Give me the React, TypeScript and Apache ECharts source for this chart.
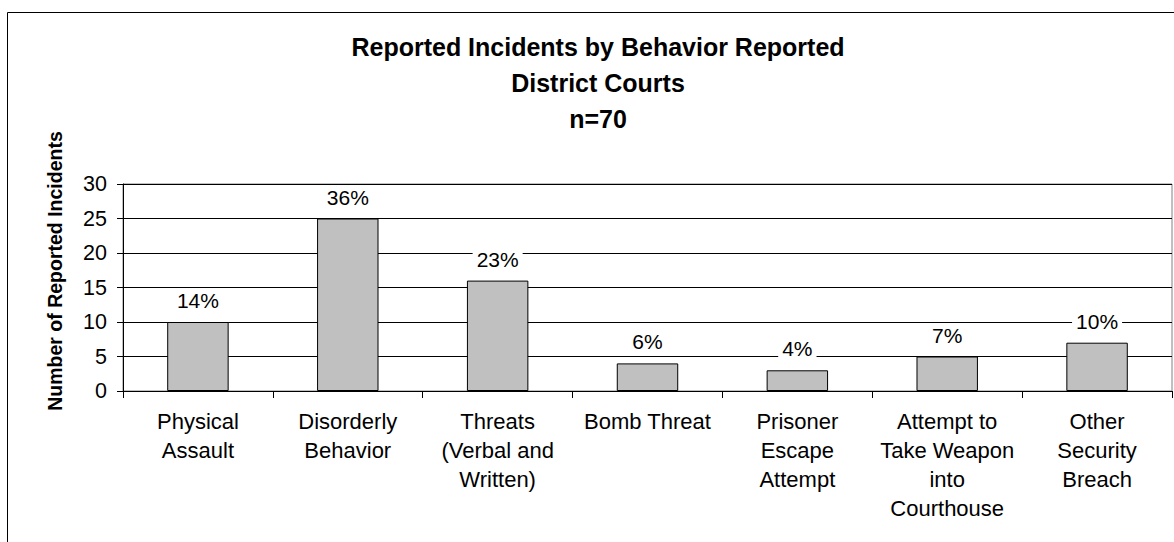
import React, { useEffect, useRef } from "react";
import * as echarts from "echarts";

const categories = [
  "Physical\nAssault",
  "Disorderly\nBehavior",
  "Threats\n(Verbal and\nWritten)",
  "Bomb Threat",
  "Prisoner\nEscape\nAttempt",
  "Attempt to\nTake Weapon\ninto\nCourthouse",
  "Other\nSecurity\nBreach",
];
const incidents = [10, 25, 16, 4, 3, 5, 7];
const titleLines = ["Reported Incidents by Behavior Reported", "District Courts", "n=70"];
const yAxisTitle = "Number of Reported Incidents";

const FONT = "'Liberation Sans', Arial, sans-serif";

export default function App() {
  const ref = useRef<HTMLDivElement>(null);
  useEffect(() => {
    document.body.style.margin = "0";
    const chart = echarts.init(ref.current!, null, { renderer: "svg" });
    const total = incidents.reduce((a, b) => a + b, 0);
    chart.setOption({
      animation: false,
      backgroundColor: "#ffffff",
      title: {
        text: titleLines.join("\n"),
        left: 593,
        top: 24,
        textAlign: "center",
        textStyle: {
          fontFamily: FONT,
          fontWeight: "bold",
          fontSize: 25,
          lineHeight: 36,
          color: "#000",
        },
      },
      graphic: [
        {
          type: "rect",
          shape: { x: 7.5, y: 12.5, width: 1300, height: 700 },
          style: { fill: "none", stroke: "#000", lineWidth: 1 },
          silent: true,
        },
        {
          type: "text",
          x: 55,
          y: 271,
          rotation: Math.PI / 2,
          style: {
            text: yAxisTitle,
            fontFamily: FONT,
            fontWeight: "bold",
            fontSize: 19.5,
            fill: "#000",
            textAlign: "center",
            textVerticalAlign: "middle",
          },
        },
      ],
      grid: {
        left: 123,
        right: 2,
        top: 184,
        bottom: 151,
        show: true,
        borderColor: "#808080",
        borderWidth: 1,
        backgroundColor: "#fff",
      },
      xAxis: {
        type: "category",
        data: categories,
        axisLine: { lineStyle: { color: "#000", width: 1 } },
        axisTick: { show: true, length: 7, lineStyle: { color: "#000" } },
        axisLabel: {
          interval: 0,
          margin: 16,
          fontFamily: FONT,
          fontSize: 22,
          lineHeight: 29,
          color: "#000",
        },
      },
      yAxis: {
        type: "value",
        min: 0,
        max: 30,
        interval: 5,
        axisLine: { show: true, lineStyle: { color: "#000", width: 1 } },
        axisTick: { show: true, length: 6, lineStyle: { color: "#000" } },
        splitLine: { show: true, lineStyle: { color: "#000", width: 1 } },
        axisLabel: {
          margin: 16,
          fontFamily: FONT,
          fontSize: 21.5,
          color: "#000",
        },
      },
      series: [
        {
          type: "bar",
          data: incidents,
          barWidth: "41%",
          itemStyle: { color: "#c0c0c0", borderColor: "#000", borderWidth: 1 },
          label: {
            show: true,
            position: "top",
            distance: 11,
            formatter: (p: any) => Math.round((p.value / total) * 100) + "%",
            fontFamily: FONT,
            fontSize: 21,
            lineHeight: 21,
            color: "#000",
            backgroundColor: "#fff",
            padding: [0, 4],
          },
        },
      ],
    });
    return () => chart.dispose();
  }, []);
  return <div ref={ref} style={{ width: 1174, height: 542 }} />;
}
